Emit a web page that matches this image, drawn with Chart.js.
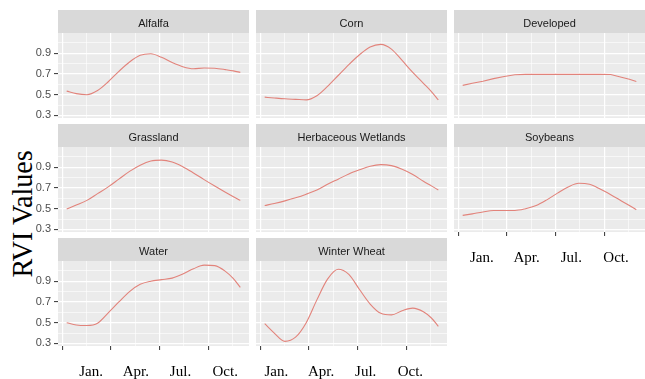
<!DOCTYPE html>
<html>
<head>
<meta charset="utf-8">
<script src="https://cdn.jsdelivr.net/npm/chart.js@4/dist/chart.umd.min.js"></script>
<style>
html,body{margin:0;padding:0;background:#ffffff;width:645px;height:379px;overflow:hidden;position:relative;}
canvas{position:absolute;}
#ytitle{position:absolute;left:-58px;top:199px;width:160px;height:30px;line-height:30px;text-align:center;
  font-family:"Liberation Serif","Times New Roman",serif;font-size:28px;color:#000;white-space:nowrap;
  transform-origin:80px 15px;transform:rotate(-90deg) scaleY(1.08);}
</style>
</head>
<body>
<div id="ytitle">RVI Values</div>
<script>
// ---- data (day of year for each sample) ----
const days = [7, 25, 45, 65, 85, 105, 125, 145, 165, 185, 205, 225, 245, 265, 285, 305, 320, 333];
const monthTickDays = [0, 90, 181, 273];
const monthMinorDays = [45, 135.5, 227, 318.5];
const monthLabels = ['Jan.', 'Apr.', 'Jul.', 'Oct.'];
const yTickValues = [0.3, 0.5, 0.7, 0.9];
const yMinorValues = [0.4, 0.6, 0.8, 1.0];
const panelNames = ['Alfalfa', 'Corn', 'Developed', 'Grassland', 'Herbaceous Wetlands', 'Soybeans', 'Water', 'Winter Wheat'];

const alfalfa    = [0.534, 0.51, 0.50, 0.54, 0.625, 0.725, 0.815, 0.88, 0.895, 0.86, 0.81, 0.77, 0.75, 0.758, 0.755, 0.742, 0.73, 0.715];
const corn       = [0.476, 0.468, 0.46, 0.455, 0.45, 0.49, 0.58, 0.685, 0.79, 0.885, 0.96, 0.985, 0.94, 0.83, 0.715, 0.61, 0.53, 0.45];
const developed  = [0.59, 0.61, 0.63, 0.655, 0.675, 0.692, 0.696, 0.696, 0.696, 0.696, 0.696, 0.696, 0.696, 0.696, 0.695, 0.668, 0.648, 0.628];
const grassland  = [0.496, 0.535, 0.58, 0.645, 0.71, 0.785, 0.86, 0.92, 0.96, 0.968, 0.95, 0.905, 0.845, 0.78, 0.718, 0.658, 0.615, 0.58];
const wetlands   = [0.53, 0.55, 0.575, 0.605, 0.64, 0.68, 0.735, 0.785, 0.835, 0.875, 0.91, 0.925, 0.915, 0.88, 0.83, 0.765, 0.72, 0.68];
const soybeans   = [0.435, 0.45, 0.468, 0.482, 0.483, 0.483, 0.50, 0.53, 0.585, 0.65, 0.71, 0.745, 0.735, 0.69, 0.635, 0.575, 0.53, 0.49];
const water      = [0.50, 0.478, 0.473, 0.495, 0.595, 0.70, 0.80, 0.87, 0.90, 0.915, 0.93, 0.97, 1.02, 1.055, 1.05, 0.995, 0.925, 0.84];
const winterWheat= [0.49, 0.40, 0.32, 0.36, 0.50, 0.72, 0.92, 1.015, 0.965, 0.82, 0.68, 0.59, 0.575, 0.615, 0.64, 0.605, 0.545, 0.465];

const seriesValues = [alfalfa, corn, developed, grassland, wetlands, soybeans, water, winterWheat];

// ---- layout ----
const COL_LEFT = [58, 256, 454];
const ROW_TOP = [33, 147, 261];
const PW = 191, PH = 85, STRIP = 23, YAXW = 28, XTICKH = 4, XLABH = 30, SPARE = 5;
const LABEL_OFFSET = [33.1, 20.3, 27.9], LABEL_STEP = 44.7;
const X_MIN = -9.3, X_MAX = 349.3, Y_MIN = 0.275, Y_MAX = 1.095;
const bottomPanels = [5, 6, 7];
const LINE_COLOR = '#e2837b';

const xGrid = monthTickDays.concat(monthMinorDays);
const yGrid = yTickValues.concat(yMinorValues);

const panelPlugin = {
  id: 'panelBg',
  beforeDraw(chart, args, opts) {
    const {ctx, chartArea: a} = chart;
    ctx.save();
    ctx.fillStyle = '#EBEBEB';
    ctx.fillRect(a.left, a.top, a.right - a.left, a.bottom - a.top);
    ctx.fillStyle = '#D9D9D9';
    ctx.fillRect(a.left, a.top - STRIP, a.right - a.left, STRIP);
    ctx.fillStyle = '#1A1A1A';
    ctx.font = '11px "Liberation Sans", Arial, sans-serif';
    ctx.textAlign = 'center';
    ctx.textBaseline = 'alphabetic';
    ctx.fillText(opts.name, (a.left + a.right) / 2, a.top - STRIP + 17.3);
    ctx.restore();
  }
};

function noPad(s) { s.paddingTop = 0; s.paddingBottom = 0; s.paddingLeft = 0; s.paddingRight = 0; }

panelNames.forEach((name, i) => {
  const r = Math.floor(i / 3), c = i % 3;
  const isLeft = c === 0;
  const isBottom = bottomPanels.includes(i);
  const w = PW + (isLeft ? YAXW : 0);
  const h = STRIP + PH + (isBottom ? XTICKH + XLABH : SPARE);
  const cv = document.createElement('canvas');
  cv.width = w; cv.height = h;
  cv.style.left = (COL_LEFT[c] - (isLeft ? YAXW : 0)) + 'px';
  cv.style.top = (ROW_TOP[r] - STRIP) + 'px';
  cv.style.width = w + 'px'; cv.style.height = h + 'px';
  document.body.appendChild(cv);

  const labMin = -LABEL_OFFSET[c] / LABEL_STEP;
  const labMax = labMin + PW / LABEL_STEP;

  const scales = {
    x: {
      type: 'linear', position: 'bottom', min: X_MIN, max: X_MAX, weight: 0,
      afterBuildTicks: s => { s.ticks = xGrid.map(v => ({value: v})); },
      ticks: {display: false, autoSkip: false},
      grid: {
        color: '#FFFFFF',
        lineWidth: ctx => (ctx.tick && monthTickDays.includes(ctx.tick.value)) ? 1.2 : 0.6,
        drawTicks: isBottom, tickLength: XTICKH, tickWidth: 1,
        tickColor: ctx => (ctx.tick && monthTickDays.includes(ctx.tick.value)) ? '#333333' : 'rgba(0,0,0,0)'
      },
      border: {display: false},
      afterFit: s => { s.height = isBottom ? XTICKH : SPARE; noPad(s); }
    },
    y: {
      type: 'linear', position: 'left', min: Y_MIN, max: Y_MAX,
      afterBuildTicks: s => { s.ticks = yGrid.map(v => ({value: v})); },
      ticks: {
        display: isLeft, autoSkip: false, padding: 3, color: '#4D4D4D',
        font: {family: '"Liberation Sans", Arial, sans-serif', size: 11},
        callback: v => yTickValues.includes(v) ? v.toFixed(1) : ''
      },
      grid: {
        color: '#FFFFFF',
        lineWidth: ctx => (ctx.tick && yTickValues.includes(ctx.tick.value)) ? 1.2 : 0.6,
        drawTicks: isLeft, tickLength: 4, tickWidth: 1,
        tickColor: ctx => (ctx.tick && yTickValues.includes(ctx.tick.value)) ? '#333333' : 'rgba(0,0,0,0)'
      },
      border: {display: false},
      afterFit: s => { s.width = isLeft ? YAXW : 0; noPad(s); }
    }
  };
  if (isBottom) {
    scales.xl = {
      type: 'linear', position: 'bottom', min: labMin, max: labMax, weight: 1,
      afterBuildTicks: s => { s.ticks = monthLabels.map((_, k) => ({value: k})); },
      ticks: {
        autoSkip: false, maxRotation: 0, minRotation: 0, padding: 13, color: '#000000',
        font: {family: '"Liberation Serif", "Times New Roman", serif', size: 15},
        callback: v => monthLabels[Math.round(v)]
      },
      grid: {display: false, drawTicks: false},
      border: {display: false},
      afterFit: s => { s.height = XLABH; noPad(s); }
    };
  }

  new Chart(cv, {
    type: 'line',
    data: {
      datasets: [{
        data: days.map((d, k) => ({x: d, y: seriesValues[i][k]})),
        borderColor: LINE_COLOR,
        borderWidth: 1.1,
        pointRadius: 0,
        fill: false,
        tension: name === 'Developed' ? 0 : 0.4,
        cubicInterpolationMode: name === 'Developed' ? 'default' : 'monotone',
        xAxisID: 'x', yAxisID: 'y'
      }]
    },
    options: {
      responsive: false, animation: false, devicePixelRatio: 1,
      layout: {padding: {top: STRIP, left: 0, right: 0, bottom: 0}},
      plugins: {legend: {display: false}, tooltip: {enabled: false}, title: {display: false}, panelBg: {name}},
      scales
    },
    plugins: [panelPlugin]
  });
});
</script>
</body>
</html>
